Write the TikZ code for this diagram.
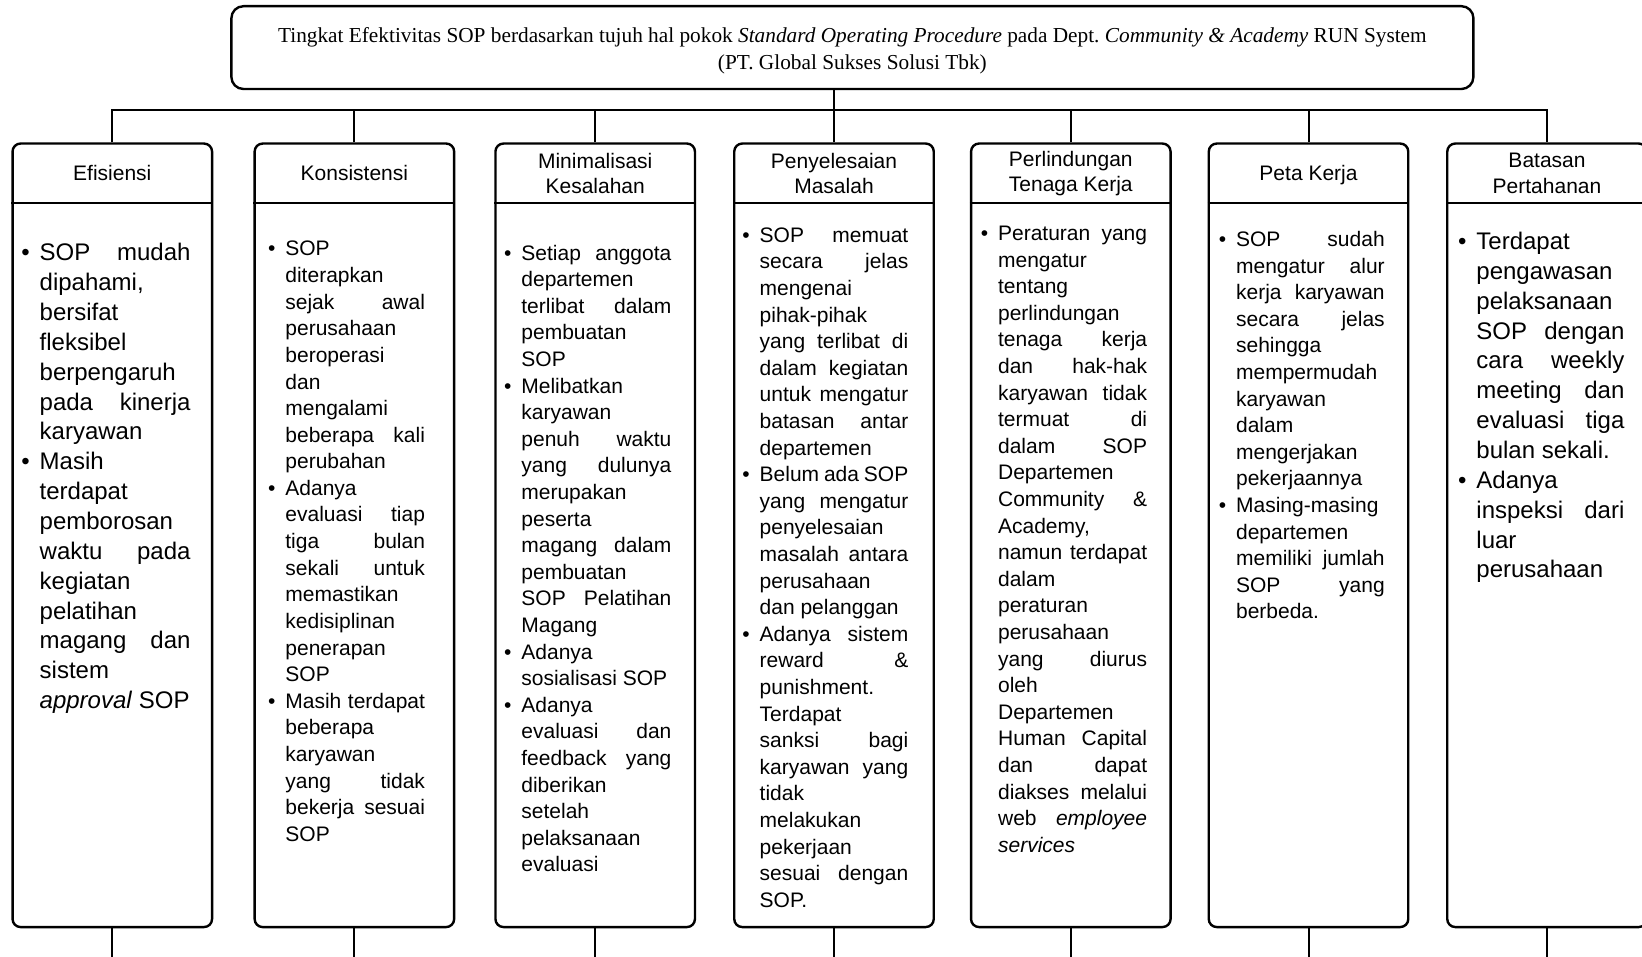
\documentclass[tikz,border=0pt]{standalone}
\usepackage{fontspec}
\setmainfont{Liberation Sans}
\newfontfamily\timesfont{Liberation Serif}
\usepackage{tikz}

\setlength{\parskip}{0pt}
\frenchspacing
\tolerance=10000
\hbadness=10000
\hyphenpenalty=10000
\exhyphenpenalty=10000

\newcommand{\bul}{\par\noindent\llap{\textbullet\hspace{5pt}}}

\begin{document}
\begin{tikzpicture}[x=0.5pt, y=-0.5pt,
    titlebox/.style={draw, line width=1.2pt, rounded corners=6pt, minimum width=621pt, minimum height=41.4pt, inner sep=0pt},
    titletext/.style={align=center, inner sep=0pt, font=\timesfont\fontsize{10.65}{13.6}\selectfont},
    colbox/.style={draw, line width=1.2pt, rounded corners=4pt, minimum width=99.75pt, minimum height=391.75pt, inner sep=0pt},
    head/.style={align=center, inner sep=0pt, font=\fontsize{10.5}{12.6}\selectfont},
    body/.style={anchor=north west, align=justify, inner sep=0pt, font=\fontsize{10.5}{13.3}\selectfont},
    bigbody/.style={body, font=\fontsize{12}{14.93}\selectfont},
    conn/.style={line width=1pt}]
    \useasboundingbox (0,0) rectangle (1642,957);
    \fill[white] (0,0) rectangle (1642,957);

    % Title
    \node (title) [titlebox] at (852.4,47.6) {};
    \node (titletxt) [titletext] at (852.4,50.8) {Tingkat Efektivitas SOP berdasarkan tujuh hal pokok \textit{Standard Operating Procedure} pada Dept. \textit{Community \& Academy} RUN System\\(PT. Global Sukses Solusi Tbk)};

    % Column boxes
    \node (c1) [colbox] at (112.3,535.3) {};
    \node (c2) [colbox] at (354.4,535.3) {};
    \node (c3) [colbox] at (595.2,535.3) {};
    \node (c4) [colbox] at (834,535.3) {};
    \node (c5) [colbox] at (1070.8,535.3) {};
    \node (c6) [colbox] at (1308.5,535.3) {};
    \node (c7) [colbox] at (1547,535.3) {};

    \coordinate (bus) at (834,110);
    \coordinate (hdr) at (0,203);

    % Header dividers
    \draw[line width=1.2pt] (c1.west |- hdr) -- (c1.east |- hdr);
    \draw[line width=1.2pt] (c2.west |- hdr) -- (c2.east |- hdr);
    \draw[line width=1.2pt] (c3.west |- hdr) -- (c3.east |- hdr);
    \draw[line width=1.2pt] (c4.west |- hdr) -- (c4.east |- hdr);
    \draw[line width=1.2pt] (c5.west |- hdr) -- (c5.east |- hdr);
    \draw[line width=1.2pt] (c6.west |- hdr) -- (c6.east |- hdr);
    \draw[line width=1.2pt] (c7.west |- hdr) -- (c7.east |- hdr);

    % Headers
    \node (h1) [head] at (112.3,173.3) {Efisiensi};
    \node (h2) [head] at (354.4,173.3) {Konsistensi};
    \node (h3) [head] at (595.2,173.3) {Minimalisasi\\Kesalahan};
    \node (h4) [head] at (834,173.3) {Penyelesaian\\Masalah};
    \node (h5) [head] at (1070.8,173.3) {Perlindungan\\Tenaga Kerja};
    \node (h6) [head] at (1308.5,174.8) {Peta Kerja};
    \node (h7) [head] at (1547,173.3) {Batasan\\Pertahanan};

    % Efisiensi
    \node (b1) [bigbody, text width=75.4pt] at (39.3,230.5) {%
        \bul SOP mudah\linebreak dipahami,\linebreak bersifat\linebreak fleksibel\linebreak berpengaruh\linebreak pada kinerja\linebreak karyawan
        \bul Masih\linebreak terdapat\linebreak pemborosan\linebreak waktu pada\linebreak kegiatan\linebreak pelatihan\linebreak magang dan\linebreak sistem\linebreak \textit{approval} SOP};

    % Konsistensi
    \node (b2) [body, text width=69.8pt] at (285,229) {%
        \bul SOP\linebreak diterapkan\linebreak sejak awal\linebreak perusahaan\linebreak beroperasi\linebreak dan\linebreak mengalami\linebreak beberapa kali\linebreak perubahan
        \bul Adanya\linebreak evaluasi tiap\linebreak tiga bulan\linebreak sekali untuk\linebreak memastikan\linebreak kedisiplinan\linebreak penerapan\linebreak SOP
        \bul Masih terdapat\linebreak beberapa\linebreak karyawan\linebreak yang tidak\linebreak bekerja sesuai\linebreak SOP};

    % Minimalisasi Kesalahan
    \node (b3) [body, text width=75pt] at (521,233) {%
        \bul Setiap anggota\linebreak departemen\linebreak terlibat dalam\linebreak pembuatan\linebreak SOP
        \bul Melibatkan\linebreak karyawan\linebreak penuh waktu\linebreak yang dulunya\linebreak merupakan\linebreak peserta\linebreak magang dalam\linebreak pembuatan\linebreak SOP Pelatihan\linebreak Magang
        \bul Adanya\linebreak sosialisasi~SOP
        \bul Adanya\linebreak evaluasi dan\linebreak feedback yang\linebreak diberikan\linebreak setelah\linebreak pelaksanaan\linebreak evaluasi};

    % Penyelesaian Masalah
    \node (b4) [body, text width=74.3pt] at (759.3,215.3) {%
        \bul SOP memuat\linebreak secara jelas\linebreak mengenai\linebreak pihak-pihak\linebreak yang terlibat di\linebreak dalam kegiatan\linebreak untuk mengatur\linebreak batasan antar\linebreak departemen
        \bul Belum ada SOP\linebreak yang mengatur\linebreak penyelesaian\linebreak masalah antara\linebreak perusahaan\linebreak dan pelanggan
        \bul Adanya sistem\linebreak reward \&\linebreak punishment.\linebreak Terdapat\linebreak sanksi bagi\linebreak karyawan yang\linebreak tidak\linebreak melakukan\linebreak pekerjaan\linebreak sesuai dengan\linebreak SOP.};

    % Perlindungan Tenaga Kerja
    \node (b5) [body, text width=74.5pt] at (997.7,213.5) {%
        \bul Peraturan yang\linebreak mengatur\linebreak tentang\linebreak perlindungan\linebreak tenaga kerja\linebreak dan hak-hak\linebreak karyawan tidak\linebreak termuat di\linebreak dalam SOP\linebreak Departemen\linebreak Community \&\linebreak Academy,\linebreak namun terdapat\linebreak dalam\linebreak peraturan\linebreak perusahaan\linebreak yang diurus\linebreak oleh\linebreak Departemen\linebreak Human Capital\linebreak dan dapat\linebreak diakses melalui\linebreak web \textit{employee}\linebreak \textit{services}};

    % Peta Kerja
    \node (b6) [body, text width=74.3pt] at (1235.7,219.5) {%
        \bul SOP sudah\linebreak mengatur alur\linebreak kerja karyawan\linebreak secara jelas\linebreak sehingga\linebreak mempermudah\linebreak karyawan\linebreak dalam\linebreak mengerjakan\linebreak pekerjaannya
        \bul Masing-masing\linebreak departemen\linebreak memiliki jumlah\linebreak SOP yang\linebreak berbeda.};

    % Batasan Pertahanan
    \node (b7) [bigbody, text width=74pt] at (1476,219.2) {%
        \bul Terdapat\linebreak pengawasan\linebreak pelaksanaan\linebreak SOP dengan\linebreak cara weekly\linebreak meeting dan\linebreak evaluasi tiga\linebreak bulan sekali.
        \bul Adanya\linebreak inspeksi dari\linebreak luar\linebreak perusahaan};

    % Connectors
    \draw[conn] (title.south -| c4.north) -- (c4.north);
    \draw[conn] (c1.north) |- (bus) -| (c7.north);
    \draw[conn] (c2.north) -- (c2.north |- bus);
    \draw[conn] (c3.north) -- (c3.north |- bus);
    \draw[conn] (c5.north) -- (c5.north |- bus);
    \draw[conn] (c6.north) -- (c6.north |- bus);

    % Lines below
    \draw[conn] (c1.south) -- ++(0,40);
    \draw[conn] (c2.south) -- ++(0,40);
    \draw[conn] (c3.south) -- ++(0,40);
    \draw[conn] (c4.south) -- ++(0,40);
    \draw[conn] (c5.south) -- ++(0,40);
    \draw[conn] (c6.south) -- ++(0,40);
    \draw[conn] (c7.south) -- ++(0,40);
\end{tikzpicture}
\end{document}
